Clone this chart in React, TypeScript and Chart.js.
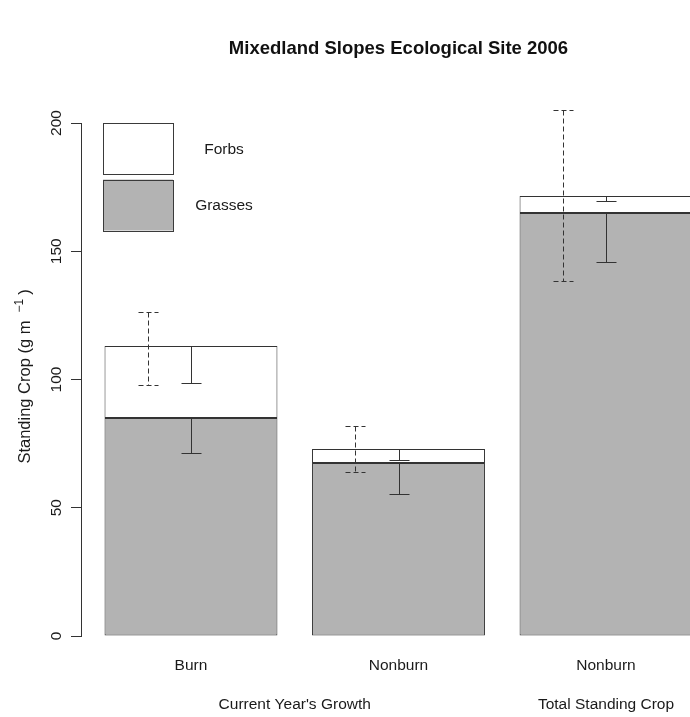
import React, { useEffect, useRef } from "react";
import { Chart, registerables } from "chart.js";

Chart.register(...registerables);

// ---------- data ----------
const chartTitle = "Mixedland Slopes Ecological Site 2006";
const categories = ["Burn", "Nonburn", "Nonburn"];
const groupLabels = ["Current Year's Growth", "Total Standing Crop"];
const groupMembers = [[0, 1], [2]];
const seriesLabels = ["Grasses", "Forbs"];
const grasses = [85.0, 67.4, 164.9];
const forbs = [28.1, 5.5, 6.6];
// dashed error bar (total standing crop)
const totalLower = [97.9, 63.9, 138.4];
const totalUpper = [126.3, 81.9, 205.1];
// solid error bars drawn downward from each segment top
const forbsLower = [98.8, 68.6, 169.6];
const grassLower = [71.3, 55.4, 145.8];
const yTicks = [0, 50, 100, 150, 200];
const yTitleMain = "Standing Crop (g m";
const yTitleSup = "\u22121";
const yTitleEnd = ")";

// ---------- layout helpers (R barplot convention: width 1, space 0.2) ----------
const SPACE = 0.2;
const barX = (i: number) => SPACE + i * (1 + SPACE) + 0.5;
const X_LO = SPACE;
const X_HI = categories.length * (1 + SPACE);
const X_MIN = X_LO - 0.04 * (X_HI - X_LO);
const X_MAX = X_HI + 0.04 * (X_HI - X_LO);
const DASH_OFFSET = -0.25;

const FONT = '"Liberation Sans", Arial, Helvetica, sans-serif';
const INK = "#333333";
const BASE = 15.5;

const annotPlugin = {
  id: "annot",
  afterDatasetsDraw(chart: any) {
    const { ctx, chartArea, scales } = chart;
    const x = scales.x;
    const y = scales.y;
    const px = (v: number) => Math.round(v) + 0.5;
    ctx.save();
    ctx.lineWidth = 1;

    const cap = (cx: number, yy: number) => {
      ctx.beginPath();
      ctx.moveTo(px(cx) - 10, px(yy));
      ctx.lineTo(px(cx) + 10, px(yy));
      ctx.stroke();
    };

    categories.forEach((_, i) => {
      const cx = x.getPixelForValue(barX(i));
      const dx = x.getPixelForValue(barX(i) + DASH_OFFSET);
      // dashed total error bar
      ctx.strokeStyle = "#333333";
      ctx.setLineDash([5, 3]);
      const yl = y.getPixelForValue(totalLower[i]);
      const yu = y.getPixelForValue(totalUpper[i]);
      ctx.beginPath();
      ctx.moveTo(px(dx), px(yu));
      ctx.lineTo(px(dx), px(yl));
      ctx.stroke();
      cap(dx, yu);
      cap(dx, yl);
      ctx.setLineDash([]);

      // solid forbs error bar
      ctx.strokeStyle = INK;
      const topF = y.getPixelForValue(grasses[i] + forbs[i]);
      const lowF = y.getPixelForValue(forbsLower[i]);
      ctx.beginPath();
      ctx.moveTo(px(cx), px(topF));
      ctx.lineTo(px(cx), px(lowF));
      ctx.stroke();
      cap(cx, lowF);

      // solid grasses error bar
      const topG = y.getPixelForValue(grasses[i]);
      const lowG = y.getPixelForValue(grassLower[i]);
      ctx.beginPath();
      ctx.moveTo(px(cx), px(topG));
      ctx.lineTo(px(cx), px(lowG));
      ctx.stroke();
      cap(cx, lowG);
    });

    // legend (top of stack first)
    const ds = chart.data.datasets;
    const boxL = chartArea.left + 22;
    const boxW = 70;
    const boxH = 51;
    const gap = 5;
    ctx.font = `${BASE}px ${FONT}`;
    ctx.textAlign = "center";
    ctx.textBaseline = "middle";
    for (let k = 0; k < ds.length; k++) {
      const d = ds[ds.length - 1 - k];
      const top = chartArea.top + k * (boxH + gap + 0.5);
      ctx.fillStyle = d.backgroundColor;
      ctx.fillRect(boxL, top, boxW, boxH);
      ctx.strokeStyle = "#3a3a3a";
      ctx.strokeRect(px(boxL), px(top), boxW, boxH);
      ctx.fillStyle = "#1a1a1a";
      ctx.fillText(d.label, boxL + 121, top + boxH / 2 + 1);
    }

    // title
    ctx.font = `bold 18.5px ${FONT}`;
    ctx.fillStyle = "#111111";
    ctx.textAlign = "center";
    ctx.textBaseline = "alphabetic";
    ctx.fillText(chartTitle, (chartArea.left + chartArea.right) / 2, 54);

    // y tick labels (rotated like R)
    ctx.font = `${BASE}px ${FONT}`;
    ctx.fillStyle = "#1a1a1a";
    y.ticks.forEach((t: any) => {
      const yy = y.getPixelForValue(t.value);
      ctx.save();
      ctx.translate(61, yy);
      ctx.rotate(-Math.PI / 2);
      ctx.textAlign = "center";
      ctx.textBaseline = "alphabetic";
      ctx.fillText(String(t.value), 0, 0);
      ctx.restore();
    });

    // y axis title with superscript
    ctx.save();
    const midY = (chartArea.top + chartArea.bottom) / 2 - 3;
    ctx.translate(30, midY);
    ctx.rotate(-Math.PI / 2);
    ctx.textBaseline = "alphabetic";
    ctx.textAlign = "left";
    ctx.font = `16.5px ${FONT}`;
    const wMain = ctx.measureText(yTitleMain).width;
    const wEnd = ctx.measureText(yTitleEnd).width;
    ctx.font = `12px ${FONT}`;
    const wSup = ctx.measureText(yTitleSup).width;
    const g1 = 8;
    const g2 = 4;
    const total = wMain + g1 + wSup + g2 + wEnd;
    let cur = -total / 2;
    ctx.font = `16.5px ${FONT}`;
    ctx.fillText(yTitleMain, cur, 0);
    cur += wMain + g1;
    ctx.font = `12px ${FONT}`;
    ctx.fillText(yTitleSup, cur, -7);
    cur += wSup + g2;
    ctx.font = `16.5px ${FONT}`;
    ctx.fillText(yTitleEnd, cur, 0);
    ctx.restore();

    // category labels and group labels
    ctx.font = `${BASE}px ${FONT}`;
    ctx.fillStyle = "#1a1a1a";
    ctx.textAlign = "center";
    ctx.textBaseline = "middle";
    categories.forEach((c, i) => {
      ctx.fillText(c, x.getPixelForValue(barX(i)), chartArea.bottom + 30);
    });
    groupLabels.forEach((g, gi) => {
      const m = groupMembers[gi];
      const mid = m.reduce((s, i) => s + barX(i), 0) / m.length;
      ctx.fillText(g, x.getPixelForValue(mid), chartArea.bottom + 69);
    });

    ctx.restore();
  },
};

export default function App() {
  const ref = useRef<HTMLCanvasElement | null>(null);

  useEffect(() => {
    if (!ref.current) return;
    const chart = new Chart(ref.current, {
      type: "bar",
      data: {
        datasets: [
          {
            label: seriesLabels[0],
            data: grasses.map((v, i) => ({ x: barX(i), y: v })),
            backgroundColor: "#b3b3b3",
            borderColor: "#333333",
            borderWidth: 1,
            borderSkipped: false,
            stack: "s",
            categoryPercentage: 1,
            barPercentage: 1 / (1 + SPACE),
          },
          {
            label: seriesLabels[1],
            data: forbs.map((v, i) => ({ x: barX(i), y: v })),
            backgroundColor: "#ffffff",
            borderColor: "#333333",
            borderWidth: 1,
            borderSkipped: false,
            stack: "s",
            categoryPercentage: 1,
            barPercentage: 1 / (1 + SPACE),
          },
        ],
      } as any,
      options: {
        responsive: false,
        animation: false,
        devicePixelRatio: 1,
        layout: { padding: { left: 0, top: 123, right: 24, bottom: 81 } },
        plugins: {
          legend: { display: false },
          tooltip: { enabled: false },
          title: { display: false },
        },
        scales: {
          x: {
            type: "linear",
            min: X_MIN,
            max: X_MAX,
            offset: false,
            grid: { offset: false },
            display: false,
            afterBuildTicks: (s: any) => {
              s.ticks = categories.map((_, i) => ({ value: barX(i) }));
            },
          },
          y: {
            type: "linear",
            min: yTicks[0],
            max: yTicks[yTicks.length - 1],
            stacked: true,
            afterBuildTicks: (s: any) => {
              s.ticks = yTicks.map((v) => ({ value: v }));
            },
            ticks: { display: false },
            grid: {
              drawOnChartArea: false,
              drawTicks: true,
              tickLength: 10,
              color: INK,
            },
            border: { display: true, color: INK, width: 1 },
            afterFit: (s: any) => {
              s.width = 81;
            },
          },
        },
      } as any,
      plugins: [annotPlugin],
    });
    return () => chart.destroy();
  }, []);

  return (
    <div
      style={{
        position: "absolute",
        left: 0,
        top: 0,
        width: 690,
        height: 717,
        overflow: "hidden",
        background: "#ffffff",
      }}
    >
      <canvas
        ref={ref}
        width={740}
        height={717}
        style={{ display: "block", width: 740, height: 717 }}
      />
    </div>
  );
}
